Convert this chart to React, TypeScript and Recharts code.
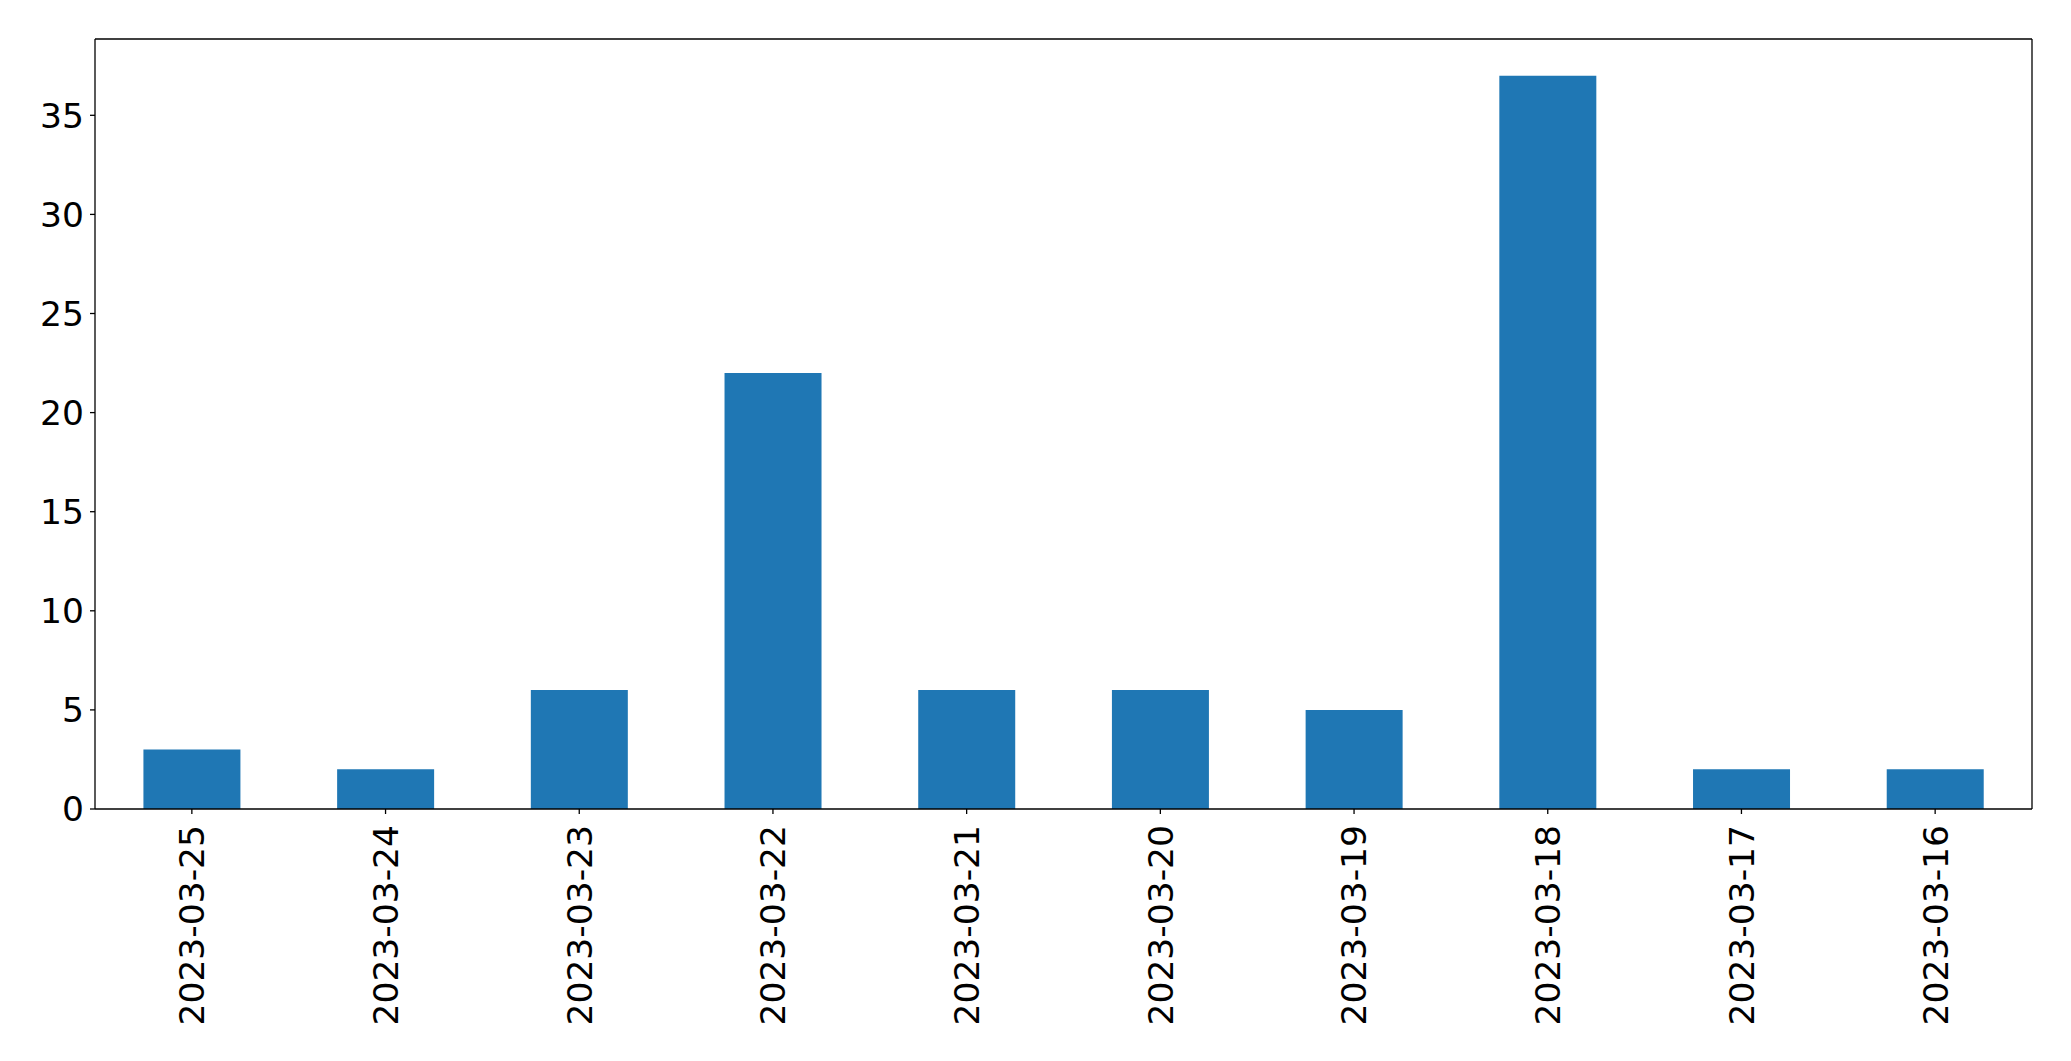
import React from 'react';
import { BarChart, Bar, XAxis, YAxis } from 'recharts';

const categories = ['2023-03-25', '2023-03-24', '2023-03-23', '2023-03-22', '2023-03-21', '2023-03-20', '2023-03-19', '2023-03-18', '2023-03-17', '2023-03-16'];
const counts = [3, 2, 6, 22, 6, 6, 5, 37, 2, 2];
const yTicks = [0, 5, 10, 15, 20, 25, 30, 35];

const data = categories.map((c, i) => ({ date: c, count: counts[i] }));

const FONT = 'DejaVu Sans';
const FS = 34.5;

const XTick = (props: any) => {
  const { x, y, payload } = props;
  return (
    <g transform={`translate(${x},${y})`}>
      <text transform="rotate(-90)" x={0} y={0} dy="0.36em" textAnchor="end" fontFamily={FONT} fontSize={FS} fill="#000">
        {payload.value}
      </text>
    </g>
  );
};

export default function App() {
  return (
    <div style={{ position: 'absolute', left: 0, top: 0, background: '#fff' }}>
      <BarChart width={2071} height={1061} data={data} margin={{ top: 38, right: 38, left: 0, bottom: 0 }} barCategoryGap="25%">
        <XAxis dataKey="date" xAxisId="main" height={252} interval={0} tickSize={5} tickMargin={11}
          axisLine={{ stroke: '#000', strokeWidth: 1.3 }} tickLine={{ stroke: '#000', strokeWidth: 1.3 }} tick={<XTick />} />
        <XAxis dataKey="date" xAxisId="top" orientation="top" height={1} tick={false} tickLine={false}
          axisLine={{ stroke: '#000', strokeWidth: 1.3 }} />
        <YAxis yAxisId="main" width={95} domain={[0, 38.85]} ticks={yTicks} tickSize={5} tickMargin={6}
          axisLine={{ stroke: '#000', strokeWidth: 1.3 }} tickLine={{ stroke: '#000', strokeWidth: 1.3 }}
          tick={{ fontFamily: FONT, fontSize: FS, fill: '#000' }} />
        <YAxis yAxisId="right" orientation="right" width={1} domain={[0, 38.85]} tick={false} tickLine={false}
          axisLine={{ stroke: '#000', strokeWidth: 1.3 }} />
        <Bar dataKey="count" xAxisId="main" yAxisId="main" fill="#1f77b4" isAnimationActive={false} />
      </BarChart>
    </div>
  );
}
